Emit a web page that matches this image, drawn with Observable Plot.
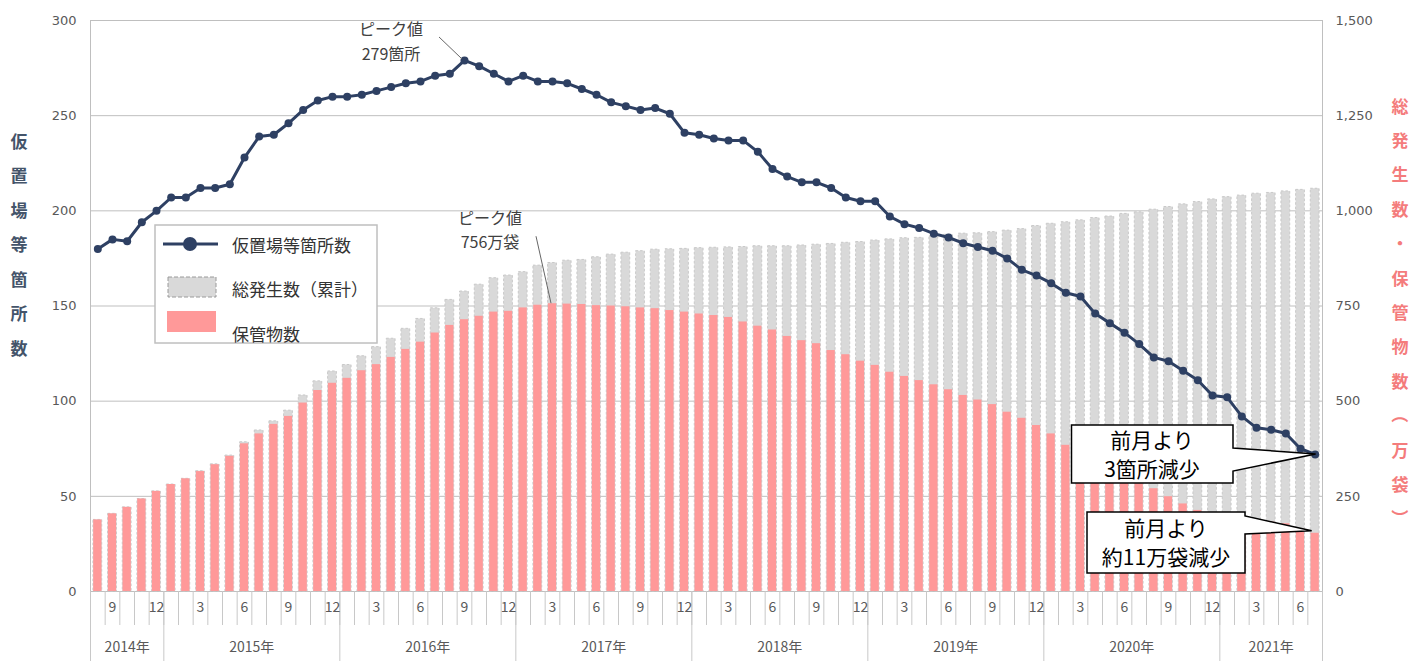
<!DOCTYPE html>
<html><head><meta charset="utf-8">
<script src="https://cdn.jsdelivr.net/npm/d3@7"></script>
<script src="https://cdn.jsdelivr.net/npm/@observablehq/plot@0.6"></script>
<style>
body{margin:0;background:#fff;}
#chart{width:1413px;height:661px;}
</style></head><body><div id="chart"></div>
<script>
// ---- data (monthly, Aug 2014 – Jul 2021) ----
const startYear = 2014, startMonth = 8;
const sites = [180,185,184,194,200,207,207,212,212,214,228,239,240,246,253,258,260,260,261,263,265,267,268,271,272,279,276,272,268,271,268,268,267,264,261,257,255,253,254,251,241,240,238,237,237,231,222,218,215,215,212,207,205,205,197,193,191,188,186,183,181,179,175,169,166,162,157,155,146,141,136,130,123,121,116,111,103,102,92,86,85,83,75,72];
const stored = [188,204,221,243,263,281,296,315,333,355,388,414,439,460,495,528,547,560,580,596,615,636,655,679,699,714,723,734,736,745,752,756,755,754,751,750,748,745,743,738,734,729,725,720,708,697,687,670,659,651,633,622,605,594,576,565,554,543,530,515,503,491,471,455,436,414,384,362,345,320,301,283,270,249,230,213,204,197,191,186,182,178,164,153];
const total = [188,204,221,243,263,281,296,316,334,357,392,423,447,475,515,552,578,595,618,642,664,690,716,744,766,788,806,823,830,839,856,863,869,871,878,885,890,894,898,899,900,902,903,904,905,907,907,907,909,911,913,916,918,922,925,928,929,933,937,940,941,944,948,952,960,966,970,975,981,985,992,996,1003,1010,1017,1023,1030,1036,1040,1045,1047,1051,1055,1058];
const leftTicks = [0,50,100,150,200,250,300];
const rightTicks = [0,250,500,750,1000,1250,1500];
const monthLabelMonths = [3,6,9,12];
const legendLabels = ["仮置場等箇所数","総発生数（累計）","保管物数"];
const leftTitle = "仮置場等箇所数";
const rightTitle = "総発生数・保管物数（万袋）";
const peakSitesLabel = ["ピーク値","279箇所"];
const peakStoredLabel = ["ピーク値","756万袋"];
const callout1 = ["前月より","3箇所減少"];
const callout2 = ["前月より","約11万袋減少"];

const RATIO = 5; // right axis units per left axis unit
const NAVY = "#2e4063", PINK = "#ff9999", GRAY = "#d9d9d9";
const FONT = '"Noto Sans CJK JP","Noto Sans",sans-serif';
const NUMFONT = '"DejaVu Sans",sans-serif';

const data = sites.map((s,i)=>({
  i, month:(startMonth-1+i)%12+1, year:startYear+Math.floor((startMonth-1+i)/12),
  sites:s, stored:stored[i], total:total[i]
}));
const n = data.length;
const yearBounds = [-0.5, ...data.filter(d=>d.month===1).map(d=>d.i-0.5), n-0.5];
const years = d3.groups(data, d=>d.year).map(([y,arr])=>({year:y, c:(arr[0].i+arr[arr.length-1].i)/2}));

const plot = Plot.plot({
  width:1413, height:661, marginLeft:90, marginRight:91, marginTop:20, marginBottom:70,
  style:{fontFamily:FONT, background:"#fff", color:"#595959"},
  x:{domain:[-0.5, n-0.5], axis:null},
  y:{domain:[0,300], axis:null},
  marks:[
    Plot.ruleY(leftTicks, {stroke:"#bfbfbf", strokeWidth:1}),
    Plot.ruleX([-0.5, n-0.5], {stroke:"#bfbfbf", y1:0, y2:300}),
    Plot.rectY(data, {x1:d=>d.i-0.3, x2:d=>d.i+0.3, y1:0, y2:d=>d.total/RATIO, fill:GRAY, stroke:"#c9c9c9", strokeWidth:1, strokeDasharray:"2.5,2"}),
    Plot.rectY(data, {x1:d=>d.i-0.28, x2:d=>d.i+0.28, y1:0, y2:d=>d.stored/RATIO, fill:PINK}),
    Plot.line(data, {x:"i", y:"sites", stroke:NAVY, strokeWidth:3}),
    Plot.dot(data, {x:"i", y:"sites", r:4, fill:NAVY, stroke:"none"}),
    // axes
    Plot.axisY(leftTicks, {anchor:"left", label:null, tickSize:0, tickPadding:14, fontSize:13, fontFamily:NUMFONT, fill:"#595959"}),
    Plot.axisY(rightTicks.map(v=>v/RATIO), {anchor:"right", label:null, tickSize:0, tickPadding:13, fontSize:13, fontFamily:NUMFONT, fill:"#595959", textAnchor:"start", tickFormat:d=>d3.format(",")(Math.round(d*RATIO))}),
    Plot.axisX(d3.range(n+1).map(k=>k-0.5), {anchor:"bottom", label:null, tickSize:34, stroke:"#c8c8c8", tickFormat:()=>""}),
    Plot.axisX(yearBounds, {anchor:"bottom", label:null, tickSize:70, stroke:"#c8c8c8", tickFormat:()=>""}),
    Plot.axisX(data.filter(d=>monthLabelMonths.includes(d.month)).map(d=>d.i), {anchor:"bottom", label:null, tickSize:0, tickPadding:11, fontSize:14, fill:"#595959", tickFormat:i=>data[i].month}),
    Plot.axisX(years.map(d=>d.c), {anchor:"bottom", label:null, tickSize:0, tickPadding:51, fontSize:14, fill:"#595959", tickFormat:c=>years.find(d=>d.c===c).year+"年"})
  ]
});
document.getElementById("chart").appendChild(plot);

const sx = plot.scale("x").apply, sy = plot.scale("y").apply;
const svg = d3.select(plot);
const g = svg.append("g").attr("font-family", FONT);

// axis titles
[...leftTitle].forEach((ch,k)=>{
  g.append("text").attr("x",19).attr("y",140+k*34.5).attr("text-anchor","middle").attr("dominant-baseline","central")
    .attr("font-size",17).attr("font-weight","bold").attr("fill","#44546a").text(ch);
});
[...rightTitle].forEach((ch,k)=>{
  const t = g.append("text").attr("x",1400).attr("y",105+k*34.4).attr("text-anchor","middle").attr("dominant-baseline","central")
    .attr("font-size",17).attr("font-weight","bold").attr("fill","#f47c7c").text(ch);
  if (ch==="（"||ch==="）") t.attr("transform",`rotate(90,1400,${105+k*34.4})`);
});

// legend
const lg = g.append("g");
lg.append("rect").attr("x",155).attr("y",225).attr("width",222).attr("height",118).attr("fill","#fff").attr("stroke","#bfbfbf").attr("stroke-width",1.5);
lg.append("line").attr("x1",163).attr("x2",218).attr("y1",244).attr("y2",244).attr("stroke",NAVY).attr("stroke-width",3);
lg.append("circle").attr("cx",190).attr("cy",244).attr("r",7).attr("fill",NAVY);
lg.append("rect").attr("x",168).attr("y",277).attr("width",48).attr("height",20).attr("fill",GRAY).attr("stroke","#9a9a9a").attr("stroke-dasharray","4,2");
lg.append("rect").attr("x",167).attr("y",311).attr("width",49).attr("height",21).attr("fill",PINK);
[[244,0],[288,1],[333,2]].forEach(([y,k])=>{
  lg.append("text").attr("x",232).attr("y",y).attr("text-anchor","start").attr("dominant-baseline","central").attr("font-size",17).attr("fill","#333").text(legendLabels[k]);
});

// peak annotations
const iPeakS = d3.maxIndex(sites), iPeakT = d3.maxIndex(stored);
const ps = [sx(iPeakS), sy(sites[iPeakS])];
const pt = [sx(iPeakT), sy(stored[iPeakT]/RATIO)];
peakSitesLabel.forEach((s,k)=>g.append("text").attr("x",ps[0]-73).attr("y",28+k*25).attr("text-anchor","middle").attr("dominant-baseline","central").attr("font-size",16).attr("fill","#404040").text(s));
g.append("line").attr("x1",ps[0]-25).attr("y1",ps[1]-23).attr("x2",ps[0]-2).attr("y2",ps[1]-1).attr("stroke","#666").attr("stroke-width",1);
peakStoredLabel.forEach((s,k)=>g.append("text").attr("x",pt[0]-62).attr("y",217+k*24).attr("text-anchor","middle").attr("dominant-baseline","central").attr("font-size",16).attr("fill","#404040").text(s));
g.append("line").attr("x1",pt[0]-16).attr("y1",pt[1]-67).attr("x2",pt[0]-1).attr("y2",pt[1]).attr("stroke","#666").attr("stroke-width",1);

// callouts
const tip1 = [sx(n-1)+1, sy(sites[n-1])];
const tip2 = [sx(n-1)-3, sy(stored[n-1]/RATIO)-2];
g.append("path").attr("d",`M1071.5,425H1233V448L${tip1[0]},${tip1[1]}L1233,471V483H1071.5Z`).attr("fill","#fff").attr("stroke","#000").attr("stroke-width",1.5);
callout1.forEach((s,k)=>g.append("text").attr("x",1152).attr("y",439+k*29).attr("text-anchor","middle").attr("dominant-baseline","central").attr("font-size",21).attr("fill","#000").text(s));
g.append("path").attr("d",`M1087,512H1245V516L${tip2[0]},${tip2[1]}L1245,534V573H1087Z`).attr("fill","#fff").attr("stroke","#000").attr("stroke-width",1.5);
callout2.forEach((s,k)=>g.append("text").attr("x",1166).attr("y",527+k*29).attr("text-anchor","middle").attr("dominant-baseline","central").attr("font-size",21).attr("fill","#000").text(s));
</script></body></html>
